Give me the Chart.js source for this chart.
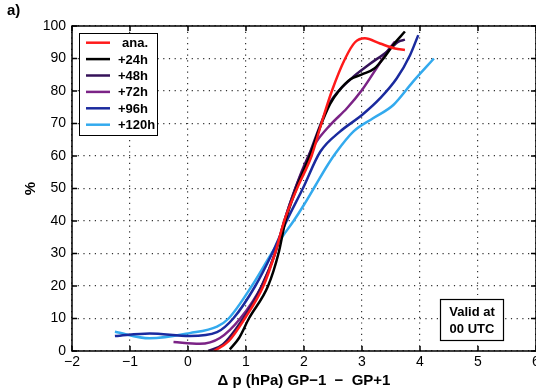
<!DOCTYPE html>
<html>
<head>
<meta charset="utf-8">
<script src="https://cdn.jsdelivr.net/npm/chart.js@4.4.1/dist/chart.umd.min.js"></script>
<style>
  body { margin: 0; background: #fff; }
</style>
</head>
<body>
<canvas id="probChart" width="536" height="392"></canvas>
<script>
// series (x = delta p in hPa, y = %)
var labels = ['ana.', '+24h', '+48h', '+72h', '+96h', '+120h'];
var colors = ['#ff1a1a', '#000000', '#351259', '#7b2386', '#1a2a9e', '#33aaee'];

var xAna = [0.45, 0.7, 0.98, 1.3, 1.5, 1.66, 1.88, 2.13, 2.30, 2.48, 2.71, 2.88, 3.05, 3.31, 3.57, 3.74];
var yAna = [0, 3, 10, 20, 30, 40, 50, 60, 70, 80, 90, 95, 96.2, 94.6, 93.1, 92.6];

var x24 = [0.72, 0.88, 1.05, 1.38, 1.56, 1.68, 1.87, 2.1, 2.28, 2.45, 2.6, 2.8, 3.0, 3.22, 3.37, 3.54, 3.74];
var y24 = [0.5, 4, 10, 20, 30, 40, 50, 60, 69, 76, 80, 83.6, 85.1, 87, 90, 94.2, 98.3];

var x48 = [0.35, 0.6, 0.95, 1.27, 1.5, 1.66, 1.85, 2.08, 2.28, 2.45, 2.82, 3.11, 3.43, 3.63, 3.74];
var y48 = [0, 2, 10, 20, 30, 40, 50, 60, 69.5, 76.5, 83.9, 88, 92.1, 95.2, 95.8];

var x72 = [-0.25, 0.2, 0.55, 0.9, 1.27, 1.5, 1.66, 1.85, 2.0, 2.2, 2.45, 2.74, 3.0, 3.25, 3.43, 3.57];
var y72 = [2.8, 2.2, 4, 10, 20, 30, 40, 50, 57, 64, 69.5, 74.7, 80.3, 87, 92.1, 95.2];

var x96 = [-1.26, -0.66, 0.03, 0.5, 0.78, 1.16, 1.45, 1.70, 1.98, 2.28, 2.62, 3.0, 3.31, 3.6, 3.83, 3.97];
var y96 = [4.6, 5.4, 4.6, 5.8, 10, 20, 30, 40, 50, 61.3, 67.5, 72.6, 77.7, 83.9, 91.1, 97.2];

var x120 = [-1.26, -0.66, 0.03, 0.5, 0.70, 1.10, 1.44, 1.62, 1.82, 2.0, 2.2, 2.4, 2.55, 2.85, 3.19, 3.54, 3.88, 4.24];
var y120 = [5.9, 3.9, 5.5, 7.5, 10, 20, 30, 35, 40, 45, 51, 57, 61, 67.5, 71.6, 75.7, 82.9, 90];

var xSeries = [xAna, x24, x48, x72, x96, x120];
var ySeries = [yAna, y24, y48, y72, y96, y120];

var fontFam = '"Liberation Sans", Arial, Helvetica, sans-serif';

function toPoints(xs, ys) {
    var pts = [];
    for (var i = 0; i < xs.length; i++) pts.push({ x: xs[i], y: ys[i] });
    return pts;
}

var datasets = [];
for (var i = 0; i < labels.length; i++) {
    datasets.push({
        label: labels[i],
        data: toPoints(xSeries[i], ySeries[i]),
        borderColor: colors[i],
        backgroundColor: colors[i],
        borderWidth: 2.5,
        pointRadius: 0,
        fill: false,
        cubicInterpolationMode: 'monotone'
    });
}

// box around plot, inner tick marks, legend box, note box, panel letter
var extras = {
    id: 'extras',
    afterDatasetsDraw: function (chart) {
        var ctx = chart.ctx;
        var a = chart.chartArea;
        var xs = chart.scales.x, ys = chart.scales.y;
        ctx.save();
        ctx.strokeStyle = '#000';
        ctx.lineWidth = 1.5;
        ctx.strokeRect(a.left, a.top, a.right - a.left, a.bottom - a.top);

        ctx.lineWidth = 1.5;
        ctx.beginPath();
        xs.ticks.forEach(function (t) {
            var px = xs.getPixelForValue(t.value);
            ctx.moveTo(px, a.bottom); ctx.lineTo(px, a.bottom - 5);
            ctx.moveTo(px, a.top); ctx.lineTo(px, a.top + 5);
        });
        ys.ticks.forEach(function (t) {
            var py = ys.getPixelForValue(t.value);
            ctx.moveTo(a.left, py); ctx.lineTo(a.left + 5, py);
            ctx.moveTo(a.right, py); ctx.lineTo(a.right - 5, py);
        });
        ctx.stroke();

        // legend
        var lx = 79, ly = 33, lw = 78, lh = 102;
        ctx.fillStyle = '#fff';
        ctx.fillRect(lx, ly, lw, lh);
        ctx.lineWidth = 1;
        ctx.strokeStyle = '#000';
        ctx.strokeRect(lx + 0.5, ly + 0.5, lw, lh);
        ctx.font = 'bold 13px ' + fontFam;
        ctx.textBaseline = 'middle';
        ctx.textAlign = 'left';
        chart.data.datasets.forEach(function (ds, k) {
            var yy = 42.7 + k * 16.4;
            ctx.strokeStyle = ds.borderColor;
            ctx.lineWidth = 2.5;
            ctx.beginPath();
            ctx.moveTo(86, yy); ctx.lineTo(110, yy);
            ctx.stroke();
            ctx.fillStyle = '#000';
            ctx.fillText(ds.label, k === 0 ? 122 : 118, yy + 1);
        });

        // note box
        ctx.fillStyle = '#fff';
        ctx.fillRect(440, 299, 63, 41);
        ctx.strokeStyle = '#000';
        ctx.lineWidth = 1.2;
        ctx.strokeRect(440.5, 299.5, 63, 41);
        ctx.fillStyle = '#000';
        ctx.textAlign = 'center';
        ctx.fillText('Valid at', 472, 312);
        ctx.fillText('00 UTC', 472, 329);

        ctx.textAlign = 'left';
        ctx.font = 'bold 15px ' + fontFam;
        ctx.fillText('a)', 7, 11);
        ctx.restore();
    }
};

var probChart = new Chart(document.getElementById('probChart').getContext('2d'), {
    type: 'line',
    data: { datasets: datasets },
    plugins: [extras],
    options: {
        responsive: false,
        animation: false,
        layout: { padding: { top: 26, right: 0, bottom: 0, left: 0 } },
        plugins: { legend: { display: false }, tooltip: { enabled: false } },
        scales: {
            x: {
                type: 'linear',
                min: -2, max: 6,
                ticks: { stepSize: 1, color: '#000', padding: 3, maxRotation: 0,
                    font: { family: fontFam, size: 14 },
                    callback: function (v) { return String(v).replace('-', '\u2212'); } },
                grid: { color: '#333', lineWidth: 1.2, drawTicks: false },
                border: { display: false, dash: [1.2, 4.5] },
                title: { display: true, text: '\u0394 p (hPa) GP\u22121  \u2212  GP+1', color: '#000',
                    font: { family: fontFam, size: 15, weight: 'bold' }, padding: { top: 0, bottom: 2 } },
                afterFit: function (s) { s.height = 41; s.paddingRight = 0; }
            },
            y: {
                min: 0, max: 100,
                ticks: { stepSize: 10, color: '#000', padding: 6,
                    font: { family: fontFam, size: 14 } },
                grid: { color: '#333', lineWidth: 1.2, drawTicks: false },
                border: { display: false, dash: [1.2, 4.5] },
                title: { display: true, text: '%', color: '#000',
                    font: { family: fontFam, size: 15, weight: 'bold' }, padding: { top: 22, bottom: 0 } },
                afterFit: function (s) { s.width = 72; }
            }
        }
    }
});
</script>
</body>
</html>
